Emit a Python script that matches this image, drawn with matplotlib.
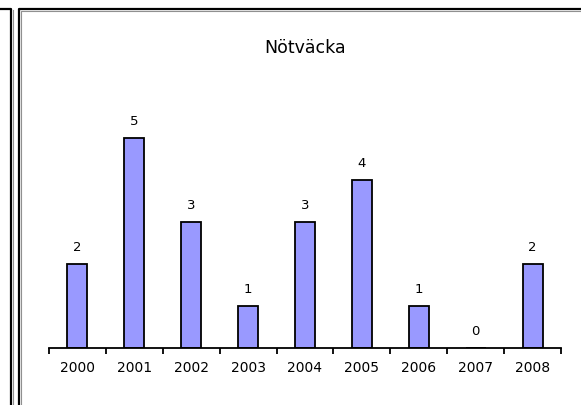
import matplotlib.pyplot as plt
from matplotlib.lines import Line2D

# Data
years = ['2000', '2001', '2002', '2003', '2004', '2005', '2006', '2007', '2008']
counts = [2, 5, 3, 1, 3, 4, 1, 0, 2]
title = 'Nötväcka'

W, H = 581, 406
fig = plt.figure(figsize=(W / 100, H / 100), dpi=100)
plt.rcParams['font.family'] = ['DejaVu Sans']

# axes placement in pixels: x 49..561, baseline y 349, ylim top at y 97
ax = fig.add_axes([49 / W, (H - 349) / H, (561 - 49) / W, (349 - 97) / H])
x = range(len(years))
bars = ax.bar(x, counts, width=0.35, color='#9999ff', edgecolor='black', linewidth=1.3)
for xi, v in zip(x, counts):
    ax.text(xi, v + 0.42, str(v), ha='center', va='center', fontsize=9.5)

ax.set_xlim(-0.5, len(years) - 0.5)
ax.set_ylim(0, 6)
ax.set_xticks(list(x))
ax.set_xticklabels(years, fontsize=10)
ax.tick_params(axis='x', which='major', length=0, pad=9)
ax.set_xticks([i - 0.5 for i in range(len(years) + 1)], minor=True)
ax.tick_params(axis='x', which='minor', length=4, width=1.3, direction='out')
ax.set_yticks([])
for s in ['top', 'left', 'right']:
    ax.spines[s].set_visible(False)
ax.spines['bottom'].set_linewidth(1.3)

fig.text(305 / W, 1 - 48 / H, title, ha='center', va='center', fontsize=12.5)


def px_line(xs, ys, color, lw):
    fig.add_artist(Line2D([v / W for v in xs], [1 - v / H for v in ys],
                          color=color, linewidth=lw, transform=fig.transFigure))


# panel borders
px_line([0, 11, 11], [10, 10, H], 'black', 1.6)
px_line([12.5, 12.5], [11, H], '#909090', 0.8)
px_line([19, 19, W], [H, 10, 10], 'black', 1.6)
px_line([21, 21, W], [H, 12, 12], '#909090', 0.8)

fig.savefig('out.png', dpi=100)
